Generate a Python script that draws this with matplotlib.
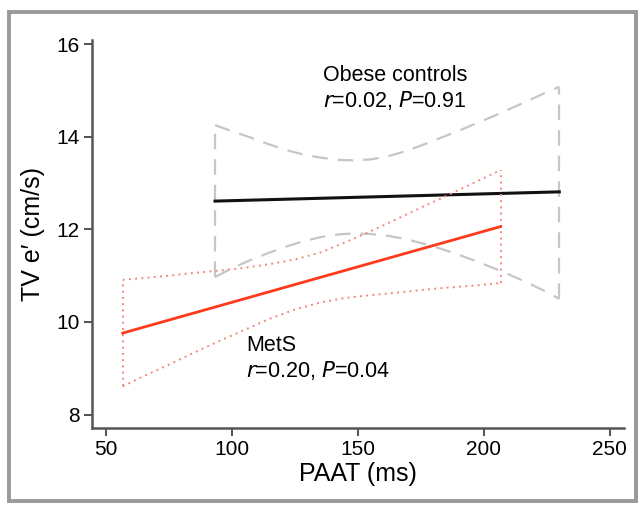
import matplotlib
matplotlib.use("Agg")
import matplotlib.pyplot as plt
from matplotlib.patches import Rectangle

plt.rcParams['font.family'] = ['Liberation Sans', 'DejaVu Sans']

# MetS regression
mets_x = [56.6, 65, 75, 85, 95, 105, 115, 125, 135, 145, 155, 165, 175, 185, 195, 206.6]
mets_fit_x = [56.6, 206.6]
mets_fit_y = [9.76, 12.06]
mets_upper = [10.91, 10.95, 11.00, 11.06, 11.11, 11.17, 11.25, 11.35, 11.50, 11.72, 11.96, 12.21, 12.47, 12.72, 12.98, 13.28]
mets_lower = [8.61, 8.83, 9.08, 9.34, 9.59, 9.83, 10.07, 10.27, 10.42, 10.52, 10.58, 10.63, 10.69, 10.74, 10.78, 10.84]

# Obese controls regression
ctrl_x = [93.25, 100, 107, 114, 121, 128, 135, 142, 148, 155, 162, 169, 176, 183, 190, 197, 204, 211, 218, 224, 229.9]
ctrl_fit_x = [93.25, 229.9]
ctrl_fit_y = [12.61, 12.81]
ctrl_upper = [14.25, 14.12, 13.99, 13.85, 13.72, 13.62, 13.55, 13.50, 13.49, 13.51, 13.58, 13.69, 13.83, 13.98, 14.13, 14.29, 14.45, 14.62, 14.79, 14.94, 15.08]
ctrl_lower = [10.97, 11.16, 11.33, 11.48, 11.62, 11.74, 11.83, 11.89, 11.91, 11.90, 11.86, 11.79, 11.69, 11.58, 11.45, 11.31, 11.16, 11.00, 10.83, 10.67, 10.50]

xticks = [50, 100, 150, 200, 250]
yticks = [8, 10, 12, 14, 16]

fig = plt.figure(figsize=(6.43, 5.08), dpi=100)
ax = fig.add_axes([0.1431, 0.1575, 0.8274, 0.7638])

# frame around the figure
fig.patches.append(Rectangle((0.014, 0.014), 0.975, 0.962, transform=fig.transFigure,
                             fill=False, edgecolor='#9a9a9a', linewidth=2.8))

gray = '#c6c6c6'
gdash = (7, 4.5)
ax.plot(ctrl_x, ctrl_upper, color=gray, lw=1.6, dashes=gdash)
ax.plot(ctrl_x, ctrl_lower, color=gray, lw=1.6, dashes=gdash)
ax.plot([ctrl_x[0], ctrl_x[0]], [ctrl_lower[0], ctrl_upper[0]], color=gray, lw=1.6, dashes=gdash)
ax.plot([ctrl_x[-1], ctrl_x[-1]], [ctrl_lower[-1], ctrl_upper[-1]], color=gray, lw=1.6, dashes=gdash)
ax.plot(ctrl_fit_x, ctrl_fit_y, color='#111111', lw=2.2)

salmon = '#f08a7a'
dot = (0, (1, 2.2))
ax.plot(mets_x, mets_upper, color=salmon, lw=1.4, linestyle=dot)
ax.plot(mets_x, mets_lower, color=salmon, lw=1.4, linestyle=dot)
ax.plot([mets_x[0], mets_x[0]], [mets_lower[0], mets_upper[0]], color=salmon, lw=1.4, linestyle=dot)
ax.plot([mets_x[-1], mets_x[-1]], [mets_lower[-1], mets_upper[-1]], color=salmon, lw=1.4, linestyle=dot)
ax.plot(mets_fit_x, mets_fit_y, color='#ff3a1c', lw=2.0)

ax.set_xlim(44.4, 255.6)
ax.set_ylim(7.71, 16.09)
ax.set_xticks(xticks)
ax.set_yticks(yticks)
ax.tick_params(labelsize=15, length=6, width=1.3, color='#444444', pad=3)
for s in ['top', 'right']:
    ax.spines[s].set_visible(False)
for s in ['left', 'bottom']:
    ax.spines[s].set_color('#555555')
    ax.spines[s].set_linewidth(1.8)

ax.set_xlabel('PAAT (ms)', fontsize=18, labelpad=2)
ax.set_ylabel('TV e\u2032 (cm/s)', fontsize=18, labelpad=8)

ax.text(136.1, 15.33, 'Obese controls', fontsize=15.5, ha='left', va='center')
ax.text(136.1, 14.79, r'$\it{r}$=0.02, $\it{P}$=0.91', fontsize=15.5, ha='left', va='center')
ax.text(105.6, 9.49, 'MetS', fontsize=15.5, ha='left', va='center')
ax.text(105.6, 8.95, r'$\it{r}$=0.20, $\it{P}$=0.04', fontsize=15.5, ha='left', va='center')

fig.savefig('out.png', dpi=100)
